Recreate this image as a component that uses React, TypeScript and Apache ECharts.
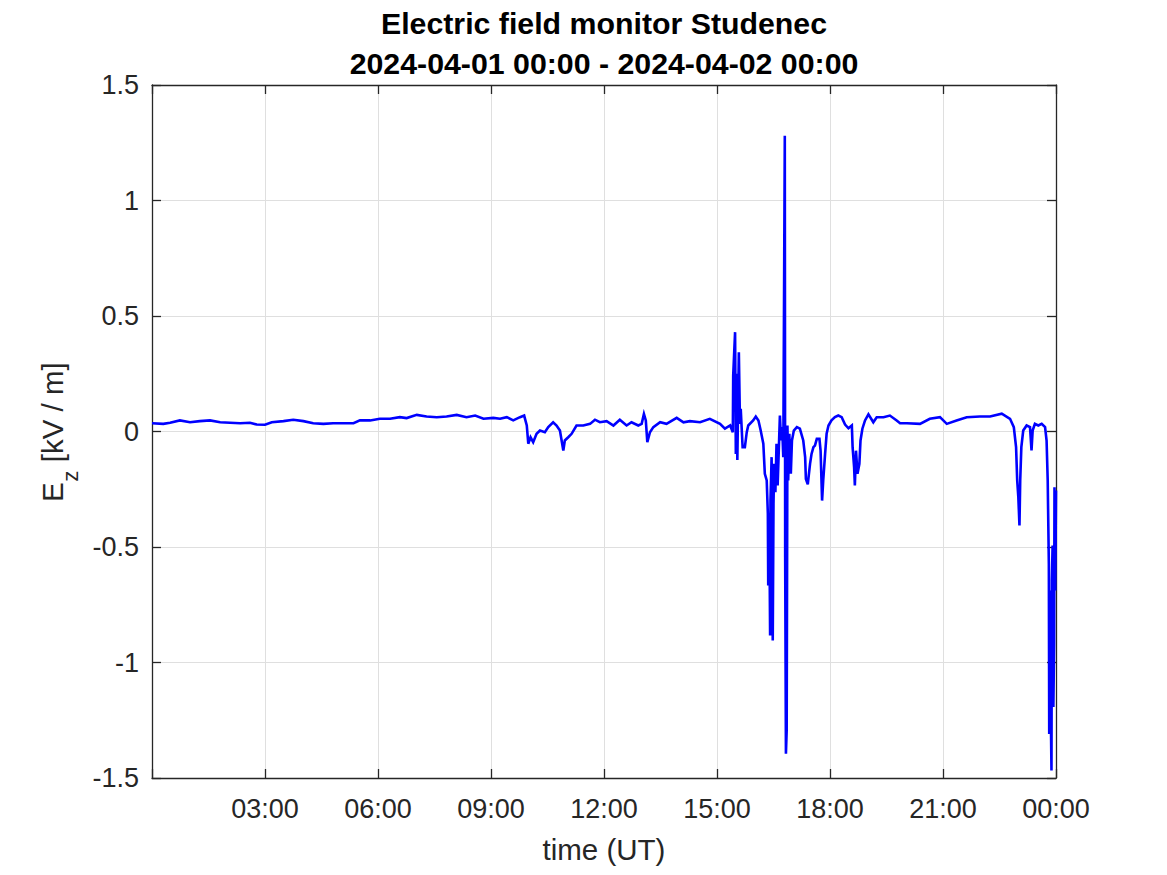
import React, { useEffect, useRef } from "react";
import * as echarts from "echarts";

// time in hours UT (2024-04-01 00:00 = 0)
const hours = [
  0.00, 0.30, 0.48, 0.74, 1.01, 1.27, 1.54, 1.81, 2.07, 2.34, 2.60, 2.78, 3.00, 3.18, 3.49, 3.75, 4.02, 4.28, 4.55, 4.81,
  5.08, 5.35, 5.52, 5.79, 6.05, 6.32, 6.58, 6.76, 7.03, 7.29, 7.56, 7.82, 8.09, 8.35, 8.58, 8.80, 9.06,
  9.24, 9.42, 9.59, 9.77, 9.88, 9.95, 9.99, 10.05, 10.12, 10.21, 10.30, 10.43, 10.52, 10.65, 10.74, 10.83, 10.92, 10.96,
  11.05, 11.14, 11.27, 11.45, 11.63, 11.76, 11.89, 12.07, 12.25, 12.42, 12.60, 12.73, 12.91, 13.00, 13.06, 13.11, 13.15,
  13.22, 13.31, 13.49, 13.66, 13.93, 14.11, 14.28, 14.55,
  14.81, 15.08, 15.21, 15.35, 15.42, 15.43, 15.48, 15.50, 15.52, 15.54, 15.58, 15.61, 15.63, 15.68, 15.74, 15.79, 15.83,
  15.96, 16.03, 16.10, 16.16, 16.23, 16.27, 16.32, 16.35, 16.36, 16.39, 16.41, 16.42, 16.45, 16.48, 16.50, 16.52, 16.55,
  16.58, 16.61, 16.65, 16.67, 16.70, 16.73, 16.76, 16.80, 16.81, 16.83, 16.85, 16.87, 16.89, 16.92, 16.96, 16.99, 17.04,
  17.12, 17.20, 17.29, 17.34, 17.36, 17.41, 17.47, 17.51, 17.56, 17.60, 17.65, 17.72, 17.75, 17.79, 17.82, 17.87, 17.91,
  17.96, 18.04, 18.13, 18.22, 18.31, 18.40, 18.49, 18.58, 18.60, 18.64, 18.66, 18.69, 18.73, 18.78, 18.81, 18.86, 18.93,
  19.02, 19.15, 19.24, 19.42, 19.59, 19.77, 19.86,
  20.04, 20.39, 20.65, 20.92, 21.10, 21.36, 21.63, 21.98, 22.25, 22.56,
  22.78, 22.88, 22.94, 22.97, 23.00, 23.03, 23.05, 23.08, 23.13, 23.22, 23.31, 23.35, 23.38, 23.44, 23.53, 23.62, 23.71,
  23.75, 23.78, 23.81, 23.82, 23.84, 23.86, 23.88, 23.89, 23.91, 23.93, 23.95, 23.96, 23.98, 24.00,
];

// vertical electric field E_z in kV/m
const ez = [
  0.036, 0.033, 0.038, 0.048, 0.040, 0.045, 0.048, 0.040, 0.038, 0.036, 0.038, 0.030, 0.029, 0.040, 0.045, 0.051, 0.045, 0.036, 0.033, 0.036,
  0.036, 0.036, 0.048, 0.048, 0.055, 0.055, 0.062, 0.058, 0.072, 0.065, 0.062, 0.065, 0.072, 0.062, 0.069, 0.055, 0.059,
  0.055, 0.062, 0.048, 0.062, 0.069, 0.026, -0.053, -0.025, -0.046, -0.010, 0.004, -0.003, 0.019, 0.040, 0.026, 0.004, -0.082, -0.039,
  -0.025, -0.010, 0.026, 0.026, 0.033, 0.051, 0.040, 0.045, 0.026, 0.051, 0.026, 0.040, 0.026, 0.033, 0.076, 0.048, -0.046,
  -0.003, 0.019, 0.040, 0.033, 0.059, 0.040, 0.045, 0.040,
  0.055, 0.033, 0.012, 0.026, -0.003, 0.242, 0.430, -0.097, 0.250, -0.123, 0.343, 0.033, 0.098, -0.068, -0.068, -0.003, 0.026,
  0.048, 0.065, 0.048, 0.004, -0.053, -0.183, -0.212, -0.356, -0.667, -0.414, -0.883, -0.299, -0.111, -0.905, -0.313, -0.140, -0.263,
  -0.053, -0.234, -0.032, 0.069, -0.039, 0.019, -0.111, 1.280, -0.544, -1.395, -1.294, 0.026, -0.212, -0.010, -0.183, -0.039, 0.004,
  0.019, 0.012, -0.039, -0.111, -0.206, -0.229, -0.140, -0.097, -0.068, -0.061, -0.032, -0.032, -0.083, -0.299, -0.212, -0.097, -0.010,
  0.026, 0.048, 0.062, 0.069, 0.062, 0.030, 0.014, 0.026, -0.068, -0.154, -0.234, -0.083, -0.183, -0.140, -0.039, 0.012, 0.048,
  0.074, 0.040, 0.062, 0.062, 0.069, 0.048, 0.036,
  0.036, 0.033, 0.055, 0.062, 0.033, 0.048, 0.062, 0.065, 0.065, 0.077,
  0.055, 0.019, -0.068, -0.212, -0.284, -0.407, -0.212, -0.068, 0.004, 0.026, 0.019, -0.082, 0.004, 0.033, 0.026, 0.033, 0.019,
  -0.039, -0.212, -0.573, -1.309, -0.688, -1.193, -1.468, -0.645, -0.494, -1.193, -0.919, -0.241, -0.688, -0.255,
];

const xTicks = [0, 3, 6, 9, 12, 15, 18, 21, 24];
const titleLines = ["Electric field monitor Studenec", "2024-04-01 00:00 - 2024-04-02 00:00"];
const xLabel = "time (UT)";
const yLabelMain = "E";
const yLabelSub = "z";
const yLabelUnit = " [kV / m]";

const FONT = "Liberation Sans, Arial, Helvetica, sans-serif";
const AX = "#262626";
const GRID = "#dfdfdf";

function fmtHour(v: number): string {
  if (v === xTicks[0]) return "";
  const h = Math.round(v) % 24;
  return (h < 10 ? "0" : "") + h + ":00";
}

export default function App() {
  const ref = useRef<HTMLDivElement>(null);
  useEffect(() => {
    if (!ref.current) return;
    const chart = echarts.init(ref.current, null, { renderer: "svg" });
    const data = hours.map((h, i) => [h, ez[i]]);
    const baseX = { type: "value", min: 0, max: 24, interval: 3 };
    const baseY = { type: "value", min: -1.5, max: 1.5, interval: 0.5 };
    const axLine = { show: true, onZero: false, lineStyle: { color: AX, width: 1.3 } };
    const axTick = { show: true, inside: true, length: 9, lineStyle: { color: AX, width: 1.3 } };
    chart.setOption({
      animation: false,
      backgroundColor: "#ffffff",
      title: {
        text: titleLines.join("\n"),
        left: 604,
        top: 3,
        padding: 0,
        textAlign: "center",
        textStyle: {
          fontFamily: FONT,
          fontSize: 30.3,
          fontWeight: "bold",
          color: "#000000",
          lineHeight: 40,
        },
      },
      graphic: [
        {
          type: "group",
          x: 52.5,
          y: 502,
          rotation: Math.PI / 2,
          children: [
            {
              type: "text",
              x: 0,
              y: 0,
              style: { text: yLabelMain, font: `29.5px ${FONT}`, fill: AX, align: "left", verticalAlign: "middle" },
            },
            {
              type: "text",
              x: 20.3,
              y: 18,
              style: { text: yLabelSub, font: `22px ${FONT}`, fill: AX, align: "left", verticalAlign: "middle" },
            },
            {
              type: "text",
              x: 31.5,
              y: 0,
              style: { text: yLabelUnit, font: `29.5px ${FONT}`, fill: AX, align: "left", verticalAlign: "middle" },
            },
          ],
        },
      ],
      grid: { left: 152, right: 111, top: 85, bottom: 97, show: false },
      xAxis: [
        {
          ...baseX,
          position: "bottom",
          name: xLabel,
          nameLocation: "middle",
          nameGap: 56,
          nameTextStyle: { fontFamily: FONT, fontSize: 29.5, color: AX, lineHeight: 30 },
          axisLine: axLine,
          axisTick: axTick,
          axisLabel: { show: true, margin: 17, fontFamily: FONT, fontSize: 27, color: AX, formatter: fmtHour },
          splitLine: { show: true, lineStyle: { color: GRID, width: 1 } },
        },
        {
          ...baseX,
          position: "top",
          axisLine: axLine,
          axisTick: axTick,
          axisLabel: { show: false },
          splitLine: { show: false },
        },
      ],
      yAxis: [
        {
          ...baseY,
          position: "left",
          axisLine: axLine,
          axisTick: axTick,
          axisLabel: { show: true, margin: 13, fontFamily: FONT, fontSize: 27, color: AX },
          splitLine: { show: true, lineStyle: { color: GRID, width: 1 } },
        },
        {
          ...baseY,
          position: "right",
          axisLine: axLine,
          axisTick: axTick,
          axisLabel: { show: false },
          splitLine: { show: false },
        },
      ],
      series: [
        {
          type: "line",
          xAxisIndex: 0,
          yAxisIndex: 0,
          data,
          showSymbol: false,
          symbol: "none",
          lineStyle: { color: "#0000ff", width: 2.6, join: "miter" },
          z: 3,
        },
      ],
    });
    return () => chart.dispose();
  }, []);
  return (
    <div
      ref={ref}
      style={{ position: "fixed", left: 0, top: 0, width: 1167, height: 875, background: "#fff" }}
    />
  );
}
